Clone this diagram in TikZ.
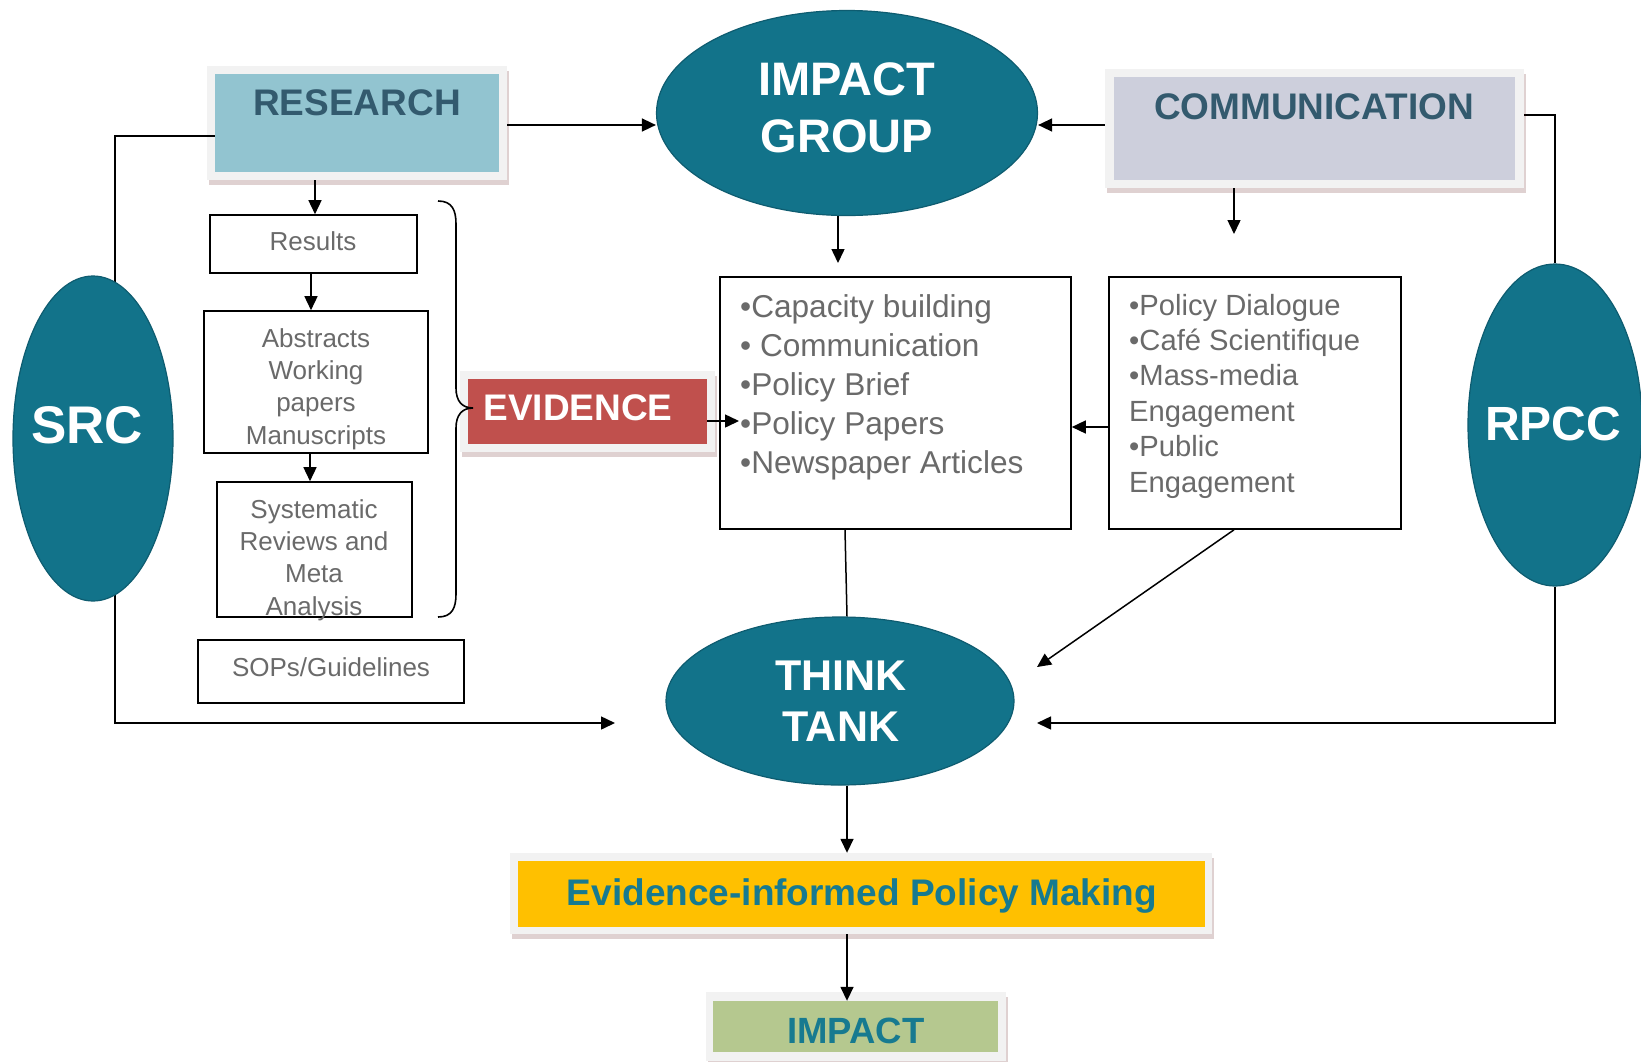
\documentclass[tikz,border=0pt]{standalone}
\usepackage{fontspec}
\setmainfont{Liberation Sans}
\usetikzlibrary{arrows.meta,shapes.geometric,shadows,backgrounds}
\definecolor{tealA}{HTML}{12738A}
\definecolor{tealB}{HTML}{0E5C70}
\definecolor{resfill}{HTML}{92C4D0}
\definecolor{commfill}{HTML}{CDCFDC}
\definecolor{evred}{HTML}{C0504D}
\definecolor{eipmfill}{HTML}{FFC000}
\definecolor{impfill}{HTML}{B5C88F}
\definecolor{slate}{HTML}{335A6E}
\definecolor{tealtxt}{HTML}{177A90}
\definecolor{graytxt}{HTML}{6A6A6A}
\definecolor{frame}{HTML}{F2F2F2}
\begin{document}
\begin{tikzpicture}[x=1pt,y=-1pt,
  outerbox/.style={rectangle,inner sep=0pt,fill=frame,draw=none,
    drop shadow={shadow xshift=2pt,shadow yshift=-5pt,opacity=0.18,fill=black!70!red}},
  innerbox/.style={rectangle,inner sep=0pt,draw=none},
  plainbox/.style={rectangle,inner sep=0pt,draw=black,line width=1.6pt,fill=white},
  ell/.style={ellipse,inner sep=0pt,fill=tealA,draw=tealB,line width=1.2pt},
  conn/.style={line width=1.5pt,draw=black},
  arr/.style={conn,-{Triangle[length=14pt,width=13pt]}},
  bigttl/.style={font=\fontsize{37}{44}\selectfont\bfseries,inner sep=0pt},
  elltxt/.style={text=white,align=center,inner sep=0pt},
  smalltxt/.style={text=graytxt,align=center,inner sep=0pt,font=\fontsize{26}{32.3}\selectfont}]
\useasboundingbox (0,0) rectangle (1641,1061);

% ---------- boxes with frames ----------
\node[outerbox,minimum width=300pt,minimum height=114pt] (resO) at (357,123) {};
\node[innerbox,fill=resfill,minimum width=284pt,minimum height=98pt] (resI) at (357,123) {};
\node[outerbox,minimum width=419pt,minimum height=119pt] (commO) at (1314.5,128.5) {};
\node[innerbox,fill=commfill,minimum width=401pt,minimum height=103pt] (commI) at (1314.5,128.5) {};
\node[outerbox,minimum width=255pt,minimum height=81pt] (evO) at (587.5,411.5) {};
\node[innerbox,fill=evred,minimum width=239pt,minimum height=65pt] (evI) at (587.5,411.5) {};
\node[outerbox,minimum width=702pt,minimum height=81pt] (eipmO) at (861,893.5) {};
\node[innerbox,fill=eipmfill,minimum width=687pt,minimum height=66pt] (eipmI) at (861.5,894) {};
\node[outerbox,minimum width=300pt,minimum height=69pt] (impO) at (856,1026.5) {};
\node[innerbox,fill=impfill,minimum width=285pt,minimum height=51pt] (impI) at (855.5,1026.5) {};

% ---------- plain boxes ----------
\node[plainbox,minimum width=207pt,minimum height=58pt] (results) at (313.5,244) {};
\node[plainbox,minimum width=224pt,minimum height=142pt] (abs) at (316,382) {};
\node[plainbox,minimum width=195pt,minimum height=135pt] (sys) at (314.5,549.5) {};
\node[plainbox,minimum width=266pt,minimum height=63pt] (sops) at (331,671.5) {};
\node[plainbox,minimum width=351pt,minimum height=252pt] (pol) at (895.5,403) {};
\node[plainbox,minimum width=292pt,minimum height=252pt] (rl) at (1255,403) {};

% ---------- ellipses ----------
\node[ell,minimum width=381pt,minimum height=205pt] (ig) at (847,113) {};
\node[ell,minimum width=348pt,minimum height=168pt] (tt) at (840,701) {};
\node[ell,minimum width=160pt,minimum height=325pt] (src) at (93,438.5) {};
\node[ell,minimum width=174pt,minimum height=322pt] (rpcc) at (1555,425) {};

% ---------- loop connectors behind ellipses ----------
\begin{pgfonlayer}{background}
\coordinate (srcArr) at (615,723);
\coordinate (rpccArr) at (1037,723);
\draw[arr] (resO.west |- 0,136) -- (115,136) -- (115,723) -- (srcArr);
\draw[conn] (commO.east |- 0,115) -| (rpcc.north);
\draw[arr] (rpcc.south) |- (rpccArr);
\end{pgfonlayer}
\draw[conn] (resO.west |- 0,136) -- (resI.west |- 0,136);

% ---------- connectors ----------
\coordinate (igArr) at (838,263);
\coordinate (commArr) at (1234,234);
\coordinate (polTip) at (739,421);
\coordinate (rlArr) at (1037,667);
\draw[arr] (resO.east |- 0,125) -- (ig.west |- 0,125);
\draw[arr] (commO.west |- 0,125) -- (ig.east |- 0,125);
\draw[arr] (ig.south -| 838,0) -- (igArr);
\draw[arr] (commO.south -| 1234,0) -- (commArr);
\draw[arr] (resO.south -| 315,0) -- (results.north -| 315,0);
\draw[arr] (results.south -| 311,0) -- (abs.north -| 311,0);
\draw[arr] (abs.south -| 310,0) -- (sys.north -| 310,0);
\draw[arr] (evI.east |- 0,421) -- (polTip);
\draw[arr] (rl.west |- 0,427) -- (pol.east |- 0,427);
\draw[conn] (pol.south -| 845,0) -- (tt.north -| 847,0);
\draw[arr] (rl.south -| 1234,0) -- (rlArr);
\draw[arr] (tt.south -| 847,0) -- (eipmO.north -| 847,0);
\draw[arr] (eipmO.south -| 847,0) -- (impI.north -| 847,0);

% ---------- brace ----------
\draw[line width=1.6pt] (438,201) .. controls (452,201) and (456,210) .. (456,224)
  -- (456,388) .. controls (456,401) and (462,408) .. (473,408)
  .. controls (462,408) and (456,415) .. (456,428)
  -- (456,594) .. controls (456,608) and (452,617) .. (438,617);

% ---------- texts ----------
\node[bigttl,text=slate] (resT) at (357,103) {RESEARCH};
\node[bigttl,text=slate] (commT) at (1314,107) {COMMUNICATION};
\node[elltxt,font=\fontsize{47}{56.5}\selectfont\bfseries] (igT) at (847,108) {IMPACT\\GROUP};
\node[elltxt,font=\fontsize{43}{50.5}\selectfont\bfseries] (ttT) at (841,701) {THINK\\TANK};
\node[elltxt,font=\fontsize{53}{60}\selectfont\bfseries] (srcT) at (87,425) {SRC};
\node[elltxt,font=\fontsize{48}{56}\selectfont\bfseries] (rpccT) at (1553,424) {RPCC};
\node[text=white,inner sep=0pt,font=\fontsize{37}{44}\selectfont\bfseries] (evT) at (578,408) {EVIDENCE};
\node[text=tealtxt,inner sep=0pt,font=\fontsize{37}{44}\selectfont\bfseries] (eipmT) at (862,896) {Evidence-informed Policy Making};
\node[text=tealtxt,inner sep=0pt,font=\fontsize{36.5}{44}\selectfont\bfseries] (impT) at (856,1031) {IMPACT};

\node[smalltxt] (resultsT) at (313,241) {Results};
\node[smalltxt] (absT) at (316,389) {Abstracts\\Working\\papers\\Manuscripts};
\node[smalltxt] (sysT) at (314,560) {Systematic\\Reviews and\\Meta\\Analysis};
\node[smalltxt] (sopsT) at (331,667) {SOPs/Guidelines};

\node[text=graytxt,align=left,inner sep=0pt,anchor=west,font=\fontsize{31.6}{39}\selectfont] (polT) at (740,387)
  {•Capacity building\\• Communication\\•Policy Brief\\•Policy Papers\\•Newspaper Articles};
\node[text=graytxt,align=left,inner sep=0pt,anchor=west,font=\fontsize{29.2}{35.4}\selectfont] (rlT) at (1129,396)
  {•Policy Dialogue\\•Café Scientifique\\•Mass-media\\Engagement\\•Public\\Engagement};
\end{tikzpicture}
\end{document}
